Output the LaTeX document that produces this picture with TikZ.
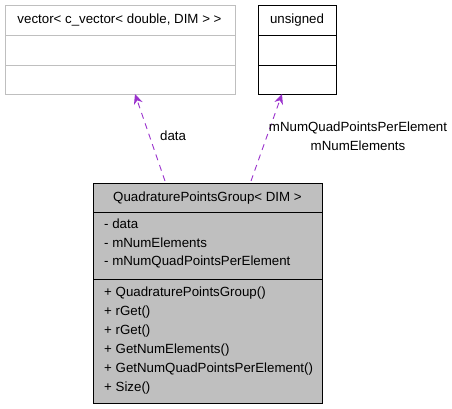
\documentclass[tikz,border=0pt]{standalone}
\usepackage{fontspec}
\setmainfont{Liberation Sans}
\usetikzlibrary{arrows.meta}
\definecolor{edgec}{HTML}{9A32CD}
\definecolor{boxgray}{HTML}{BFBFBF}
\tikzset{
  lbl/.style={font=\fontsize{13.3}{15}\selectfont, inner sep=0pt},
  dep/.style={draw=edgec, dashed, dash pattern=on 6pt off 5pt, line width=0.9pt, -{Stealth[length=10pt,width=9pt]}},
}
\begin{document}
\begin{tikzpicture}[x=1pt,y=-1pt]
\useasboundingbox (0,0) rectangle (452,408);
% vector box
\draw[boxgray, line width=1pt] (5,5) rectangle (235,94);
\draw[boxgray, line width=1pt] (5,35) -- (235,35) (5,65) -- (235,65);
\node[lbl] (vec) at (119.5,20) {vector< c\_vector< double, DIM > >};
\coordinate (vecb) at (135,94);
% unsigned box
\draw[black, line width=1pt] (258,5) rectangle (336,94);
\draw[black, line width=1pt] (258,35) -- (336,35) (258,65) -- (336,65);
\node[lbl] (uns) at (297,20) {unsigned};
\coordinate (unsb) at (282,94);
% main box
\filldraw[fill=boxgray, draw=black, line width=1pt] (93,183) rectangle (322,403);
\draw[black, line width=1pt] (93,212) -- (322,212) (93,279) -- (322,279);
\node[lbl] (hdr) at (207.5,198) {QuadraturePointsGroup< DIM >};
\node[lbl, anchor=west] (a1) at (104,224) {- data};
\node[lbl, anchor=west] (a2) at (104,243) {- mNumElements};
\node[lbl, anchor=west] (a3) at (104,262) {- mNumQuadPointsPerElement};
\node[lbl, anchor=west] (m1) at (104,293) {+ QuadraturePointsGroup()};
\node[lbl, anchor=west] (m2) at (104,312) {+ rGet()};
\node[lbl, anchor=west] (m3) at (104,331) {+ rGet()};
\node[lbl, anchor=west] (m4) at (104,350) {+ GetNumElements()};
\node[lbl, anchor=west] (m5) at (104,369) {+ GetNumQuadPointsPerElement()};
\node[lbl, anchor=west] (m6) at (104,388) {+ Size()};
\coordinate (t1) at (165,181);
\coordinate (t2) at (251,181);
% edges
\draw[dep] (t1) -- (vecb);
\draw[dep] (t2) -- (unsb);
\node[lbl, anchor=west] (ld) at (160,136) {data};
\node[lbl] (l1) at (358,128) {mNumQuadPointsPerElement};
\node[lbl] (l2) at (358,146) {mNumElements};
\end{tikzpicture}
\end{document}
